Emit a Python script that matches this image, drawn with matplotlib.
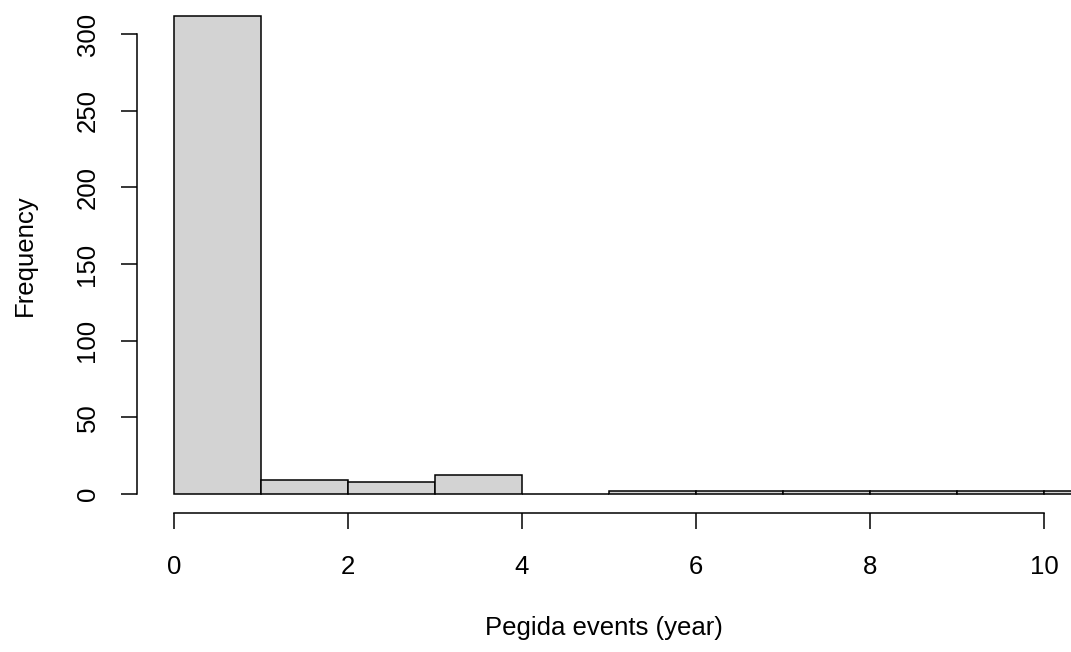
import matplotlib
matplotlib.use("Agg")
import matplotlib.pyplot as plt

# histogram bins (year) and counts
bin_edges = [0, 1, 2, 3, 4, 5, 6, 7, 8, 9, 10, 11]
counts = [312, 9, 8, 12, 0, 2, 2, 2, 2, 2, 2]
x_ticks = [0, 2, 4, 6, 8, 10]
y_ticks = [0, 50, 100, 150, 200, 250, 300]

plt.rcParams['font.family'] = ['Liberation Sans', 'DejaVu Sans']
FS = 18.5

W, H = 1071, 652
fig = plt.figure(figsize=(W / 100, H / 100), dpi=100)
# plot region in pixels (R style)
left, right, bottom, top = 137, 1071, 513, -3.5
ax = fig.add_axes([left / W, (H - bottom) / H, (right - left) / W, (bottom - top) / H])

widths = [b - a for a, b in zip(bin_edges[:-1], bin_edges[1:])]
ax.bar(bin_edges[:-1], counts, width=widths, align='edge',
       color='#D3D3D3', edgecolor='black', linewidth=1.1)

ax.set_xlim(-0.425, 10.31)
ax.set_ylim(-12.48, 324.5)

for s in ['top', 'right']:
    ax.spines[s].set_visible(False)
ax.spines['left'].set_bounds(0, 300)
ax.spines['bottom'].set_bounds(0, 10)
for s in ['left', 'bottom']:
    ax.spines[s].set_linewidth(1.1)

ax.set_xticks(x_ticks)
ax.set_yticks(y_ticks)
ax.set_yticklabels([str(v) for v in y_ticks], rotation=90, va='center')
ax.tick_params(axis='both', length=11.5, width=1.1, labelsize=FS)
ax.tick_params(axis='x', pad=18.5)
ax.tick_params(axis='y', pad=15.5)

fig.text((left + right) / 2 / W, 1 - 628 / H, "Pegida events (year)",
         ha='center', va='center', fontsize=FS)
fig.text(25 / W, 1 - 255 / H, "Frequency", rotation=90,
         ha='center', va='center', fontsize=FS)

fig.savefig("out.png", dpi=100)
